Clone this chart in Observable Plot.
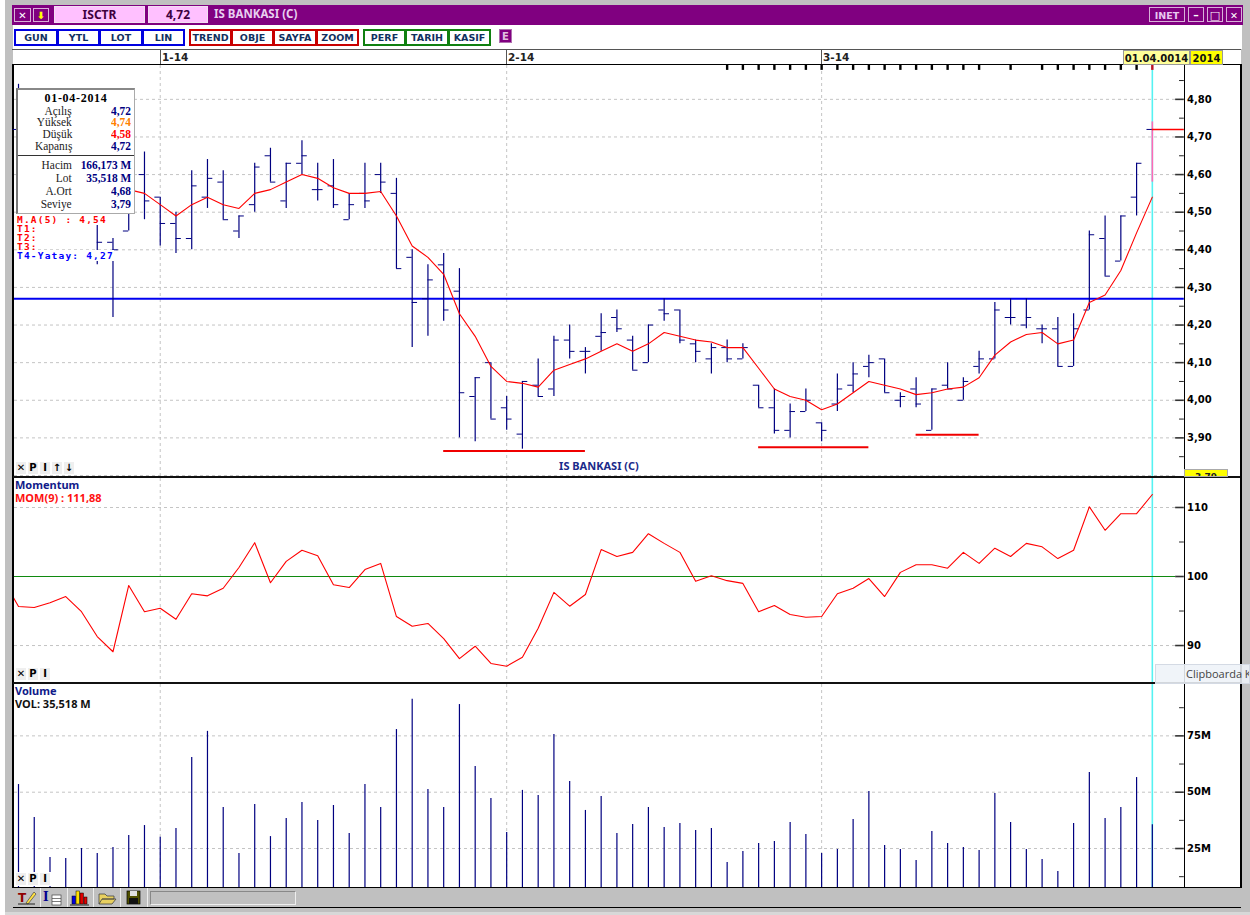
<!DOCTYPE html>
<html><head><meta charset="utf-8">
<script src="https://cdn.jsdelivr.net/npm/d3@7"></script>
<script src="https://cdn.jsdelivr.net/npm/@observablehq/plot@0.6"></script>
<style>
html,body{margin:0;padding:0;background:#fff;}
#win{position:relative;width:1250px;height:915px;overflow:hidden;background:#c0c0c0;font-family:"DejaVu Sans",sans-serif;}
#win>*{position:absolute;}
.pane{left:0;}
.pane svg{display:block;background:transparent;}
.bx{box-sizing:border-box;position:absolute;text-align:center;font-weight:bold;white-space:nowrap;}
.mini{display:flex;font:bold 10px "DejaVu Sans";color:#000;}
.mini span{box-sizing:border-box;width:12px;height:14px;line-height:12px;text-align:center;border:1px solid #fff;background:#efefef;}
.term{font:bold 9.5px/9px "DejaVu Sans Mono",monospace;letter-spacing:1.2px;white-space:pre;}
.term span{background:#fff;}
.ser{font:12px/11px "Liberation Serif",serif;}
</style></head><body>
<div id="win"></div>
<script>
// ---------- data (73 sessions, index 0 … 72) ----------
const highs = [4.84,4.75,4.74,4.70,4.66,4.54,4.43,4.62,4.66,4.54,4.50,4.61,4.64,4.61,4.49,4.63,4.67,4.63,4.69,4.63,4.64,4.55,4.63,4.63,4.59,4.40,4.36,4.39,4.35,4.06,4.10,4.01,4.05,4.11,4.17,4.20,4.14,4.23,4.24,4.17,4.20,4.27,4.24,4.16,4.15,4.16,4.15,4.04,4.03,3.99,4.03,3.94,4.07,4.10,4.12,4.11,4.02,4.06,4.03,4.10,4.06,4.13,4.26,4.27,4.27,4.20,4.22,4.23,4.45,4.49,4.49,4.63,4.74];
const lows = [4.66,4.61,4.56,4.53,4.52,4.36,4.22,4.45,4.48,4.41,4.39,4.40,4.51,4.48,4.43,4.50,4.58,4.51,4.60,4.53,4.51,4.48,4.51,4.55,4.35,4.14,4.17,4.21,3.90,3.89,3.95,3.92,3.87,4.01,4.01,4.11,4.07,4.13,4.18,4.08,4.10,4.21,4.15,4.10,4.07,4.10,4.11,3.98,3.91,3.90,3.97,3.89,3.97,4.02,4.06,4.02,3.98,3.98,3.92,4.03,4.00,4.07,4.11,4.20,4.19,4.15,4.09,4.09,4.24,4.33,4.37,4.49,4.58];
const opens = [4.72,4.70,4.66,4.60,4.58,4.52,4.42,4.45,4.60,4.54,4.47,4.43,4.54,4.58,4.45,4.52,4.65,4.53,4.63,4.56,4.57,4.48,4.55,4.60,4.55,4.38,4.27,4.36,4.29,4.01,4.10,3.98,3.91,4.04,4.03,4.16,4.13,4.17,4.22,4.16,4.10,4.24,4.24,4.15,4.11,4.14,4.11,4.04,3.98,3.92,3.97,3.94,3.99,4.04,4.09,4.11,4.00,4.03,3.92,4.04,4.00,4.09,4.11,4.22,4.20,4.19,4.19,4.09,4.24,4.43,4.37,4.54,4.72];
const closes = [4.70,4.66,4.60,4.58,4.55,4.42,4.40,4.57,4.53,4.47,4.43,4.57,4.59,4.48,4.49,4.62,4.58,4.63,4.65,4.56,4.52,4.52,4.53,4.58,4.35,4.26,4.32,4.24,4.02,4.06,3.95,3.95,4.05,4.01,4.16,4.13,4.13,4.18,4.19,4.08,4.20,4.23,4.16,4.13,4.14,4.11,4.14,3.98,3.92,3.97,4.00,3.92,4.03,4.07,4.10,4.02,4.01,3.99,4.03,4.03,4.05,4.11,4.24,4.22,4.22,4.19,4.09,4.19,4.44,4.33,4.49,4.63,4.72];
const ma5 = [null,null,null,null,null,null,null,4.56,4.55,4.52,4.49,4.52,4.54,4.52,4.51,4.55,4.56,4.58,4.60,4.59,4.565,4.55,4.55,4.555,4.49,4.41,4.38,4.335,4.23,4.17,4.09,4.05,4.045,4.035,4.08,4.095,4.11,4.13,4.15,4.13,4.15,4.18,4.17,4.16,4.155,4.14,4.14,4.085,4.03,4.01,4.00,3.975,3.99,4.02,4.05,4.04,4.03,4.015,4.02,4.03,4.035,4.06,4.12,4.155,4.175,4.18,4.15,4.16,4.26,4.28,4.345,4.445,4.54];
// momentum starts one session before the visible window
const momentum = [99.7,95.65,95.5,96.2,97.1,94.9,91.3,89.1,98.7,94.9,95.4,93.8,97.5,97.2,98.3,101.3,104.9,99.1,102.2,103.8,103.0,98.8,98.4,101.0,101.9,94.2,92.8,93.2,91.0,88.1,89.9,87.4,87.0,88.3,92.5,97.7,95.7,97.4,103.9,102.9,103.5,106.2,104.8,103.5,99.3,100.1,99.4,99.0,94.9,95.8,94.5,94.1,94.2,97.5,98.3,99.7,97.1,100.6,101.7,101.7,101.2,103.5,101.9,104.1,102.9,104.8,104.3,102.6,103.8,110.1,106.7,109.1,109.1,111.88];
const volume = [53.4,38.8,21.0,20.6,25,22.8,25.4,30.8,35.2,30,33.9,65.4,77,43.2,22.8,44.5,30.3,38.3,45.4,37.4,44.1,31.7,53.4,43.2,77.8,91.2,51.2,43.2,88.9,61.4,47.2,32.1,50.8,48.5,75.6,54.8,41.9,48.1,31.7,35.7,43.2,34.3,36.1,33,33.9,18.8,23.7,27.2,28.1,36.5,31.2,22.8,24.6,37.9,50.3,26.3,24.6,19.7,32.5,27.2,25.4,24.1,49.4,36.5,24.6,20.1,14.8,36.1,58.7,38.3,43.2,56.5,35.518];

const monthStarts = [9,31,51];
const monthLabels = ["1-14","2-14","3-14"];
const topTicks = [45,46,47,48,49,50,51,52,53,54,55,56,57,58,59,60,61,63,65,66,67,68,69,70,71,72];
const horizontal = 4.27;
const supports = [{from:27,to:36,level:3.865},{from:47,to:54,level:3.875},{from:57,to:61,level:3.908}];
const priceTicks = [4.8,4.7,4.6,4.5,4.4,4.3,4.2,4.1,4.0,3.9];
const priceGrid = [4.8,4.7,4.6,4.5,4.4,4.3,4.2,4.1,4.0,3.9,3.8];
const priceMinor = [4.85,4.75,4.65,4.55,4.45,4.35,4.25,4.15,4.05,3.95,3.85];
const momTicks = [110,100,90];
const momGrid = [110,90];
const momMinor = [105,95];
const volTicks = [75,50,25];
const volMinor = [87.5,62.5,37.5,12.5];
const last = 72;

// ---------- layout helpers ----------
const NAVY="#000080", GRID="#c4c4c4", RED="#ff0000", CYAN="#55f2f2";
const FONT='"DejaVu Sans",sans-serif';
const NOTO='"Noto Sans",sans-serif';
const xScale = {domain:[-0.254,74.03], range:[14,1183.8], axis:null};
const idx = d3.range(highs.length);
const comma = (d,n)=>d.toFixed(n).replace(".",",");
const xEnd = xScale.domain[1];

function yAxes(ticks,minor,format){
  return [
    Plot.ruleY(minor,{x1:xEnd-0.3,x2:xEnd,stroke:"#222",strokeWidth:1}),
    Plot.ruleY(ticks,{x1:xEnd-0.55,x2:xEnd,stroke:"#333",strokeWidth:1.6}),
    Plot.axisY(ticks,{anchor:"right",tickSize:0,tickPadding:2.5,tickFormat:format,label:null,
      fontWeight:"bold",fontSize:10,fontFamily:FONT,fill:"#000"}),
    Plot.frame({anchor:"right",stroke:"#000"})
  ];
}
function commonGrid(grid){
  return [
    Plot.ruleY(grid,{x1:xScale.domain[0],x2:xEnd-0.55,stroke:GRID,strokeDasharray:"3 3",strokeWidth:1}),
    Plot.ruleX(monthStarts,{stroke:GRID,strokeDasharray:"3 3",strokeWidth:1}),
    Plot.ruleX([last],{stroke:CYAN,strokeWidth:1.6})
  ];
}
function mount(plot,top){
  const d=document.createElement("div");
  d.className="pane";d.style.top=top+"px";d.appendChild(plot);
  win.appendChild(d);
}
const win=document.getElementById("win");
function rect(l,t,w,h,bg,extra=""){
  const d=document.createElement("div");
  d.style.cssText=`position:absolute;left:${l}px;top:${t}px;width:${w}px;height:${h}px;background:${bg};${extra}`;
  win.appendChild(d);return d;
}
function label(l,t,w,h,txt,css){
  const d=document.createElement("div");d.className="bx";
  d.style.cssText=`left:${l}px;top:${t}px;width:${w}px;height:${h}px;line-height:${h}px;${css}`;
  d.textContent=txt;win.appendChild(d);return d;
}

// ---------- window chrome ----------
rect(0,0,5,915,"#fff");
rect(5,912,1245,3,"#d8d8d8");
rect(12,5,1231,20,"#800080");
rect(13,25,1229,24,"#fff");
rect(12,49,1229,1,"#555");
rect(13,50,1228,15,"#fff");
rect(13,64,1228,1,"#000");
rect(13,65,1228,823,"#fff");
rect(12,64,2,824,"#000");
rect(1240,64,2,824,"#000");
rect(13,888,1228,19,"#c0c0c0");
rect(13,907,1228,1,"#000");

// title bar
const tBtn="border:1px solid #d8b0d8;color:#fff;";
label(14,8,17,14,"✕",tBtn+"font-size:10px;");
label(33,8,16,14,"⬇",tBtn+"font-size:10px;color:#ffff00;");
label(54,6,91,17,"ISCTR",`background:#ffc0ff;color:#400040;font:bold 12px/15px ${NOTO};border:1px solid #f0e0f0;`);
label(148,6,60,17,"4,72",`background:#ffc0ff;color:#400040;font:bold 12px/15px ${NOTO};border:1px solid #f0e0f0;`);
label(214,6,120,17,"IS BANKASI (C)",`color:#e8d0f0;font:bold 11.5px/16px ${NOTO};text-align:left;`);
label(1149,7,36,15,"INET",tBtn+"font-size:9.5px;color:#e8c8f0;");
label(1188,7,16,15,"–",tBtn+"font-size:11px;");
label(1207,7,16,15,"□",tBtn+"font-size:11px;");
label(1226,7,16,15,"✕",tBtn+"font-size:9.5px;");

// toolbar
const groups=[
 {c:"#0000e0",items:[["GUN",14],["YTL",57],["LOT",99],["LIN",142]],end:184},
 {c:"#c80000",items:[["TREND",189],["OBJE",231],["SAYFA",273],["ZOOM",316]],end:358},
 {c:"#108010",items:[["PERF",363],["TARIH",405],["KASIF",448]],end:490}];
for(const g of groups){
  g.items.forEach(([t,x],i)=>{
    const nx=i<g.items.length-1?g.items[i+1][1]:g.end;
    const e=label(x,29,nx-x+1,17,t,`background:#fff;color:#103060;font-size:9.5px;border:2px solid ${g.c};`);
    e.style.lineHeight="13px";
  });
}
label(499,29,13,14,"E","background:#800080;color:#e0c0e0;font-size:10px;border:1px solid #b070b0;");

// date strip
monthStarts.forEach((m,i)=>{
  const x=Math.round(18+15.75*m);
  rect(x,50,1,14,"#555");
  label(x+2,50,40,14,monthLabels[i],"text-align:left;font-size:10.5px;color:#222;");
});
label(1123,50,67,15,"01.04.0014","background:#ffff99;border:1px solid #999;font-size:10px;color:#111;");
label(1190,50,33,15,"2014","background:#ffff00;border:1px solid #999;font-size:10px;color:#111;");

// ---------- price pane ----------
const bars = idx.map(i=>({i,h:highs[i],l:lows[i],o:opens[i],c:closes[i],ma:ma5[i]}));
const regular = bars.filter(d=>d.i<last), lastBar = bars.filter(d=>d.i===last);
const pricePlot = Plot.plot({
  width:1250,height:413,marginTop:0,marginBottom:0,marginLeft:14,marginRight:66,
  style:{background:"transparent"},
  x:xScale, y:{domain:[3.792,4.89],axis:null},
  marks:[
    ...commonGrid(priceGrid),
    Plot.ruleY([horizontal],{x1:xScale.domain[0],x2:xEnd,stroke:"#0000f0",strokeWidth:2}),
    Plot.ruleX(regular,{x:"i",y1:"l",y2:"h",stroke:NAVY,strokeWidth:1.2}),
    Plot.ruleY(regular,{x1:d=>d.i-0.34,x2:"i",y:"o",stroke:NAVY,strokeWidth:1}),
    Plot.ruleY(regular,{x1:"i",x2:d=>d.i+0.34,y:"c",stroke:NAVY,strokeWidth:1}),
    Plot.ruleX(lastBar,{x:"i",y1:"l",y2:"h",stroke:"#ff69b4",strokeWidth:1.6}),
    Plot.ruleY(lastBar,{x1:d=>d.i-0.34,x2:"i",y:"o",stroke:NAVY,strokeWidth:1}),
    Plot.ruleY(lastBar,{x1:"i",x2:xEnd,y:"c",stroke:RED,strokeWidth:1.4}),
    Plot.line(bars,{x:"i",y:"ma",stroke:RED,strokeWidth:1.1,curve:"linear"}),
    Plot.ruleY(supports,{x1:"from",x2:"to",y:"level",stroke:"#f00000",strokeWidth:2}),
    Plot.ruleX(topTicks,{y1:4.89,y2:4.877,stroke:d=>d===last?"#c01020":"#000",strokeWidth:2.4}),
    Plot.text(["IS BANKASI (C)"],{x:36.86,y:3.824,text:d=>d,fill:"#1a2a8a",fontWeight:"bold",fontSize:11,fontFamily:NOTO}),
    ...yAxes(priceTicks,priceMinor,d=>comma(d,2))
  ]
});
mount(pricePlot,65);

// ---------- momentum pane ----------
const momData = momentum.map((v,k)=>({i:k-1,v}));
const momPlot = Plot.plot({
  width:1250,height:205,marginTop:0,marginBottom:0,marginLeft:14,marginRight:66,
  style:{background:"transparent"},
  x:xScale, y:{domain:[84.5,114.2],axis:null},
  marks:[
    ...commonGrid(momGrid),
    Plot.ruleY([100],{x1:xScale.domain[0],x2:xEnd-0.55,stroke:"#108a10",strokeWidth:1.2}),
    Plot.line(momData,{x:"i",y:"v",stroke:RED,strokeWidth:1.1,clip:true}),
    ...yAxes(momTicks,momMinor,d=>String(d))
  ]
});
mount(momPlot,478);

// ---------- volume pane ----------
const volData = volume.map((v,i)=>({i,v}));
const volFloor = 7.7;
const volPlot = Plot.plot({
  width:1250,height:203,marginTop:0,marginBottom:0,marginLeft:14,marginRight:66,
  style:{background:"transparent"},
  x:xScale, y:{domain:[volFloor,97.8],axis:null},
  marks:[
    ...commonGrid(volTicks),
    Plot.ruleX(volData,{x:"i",y1:volFloor,y2:"v",stroke:NAVY,strokeWidth:1.2}),
    ...yAxes(volTicks,volMinor,d=>d+"M")
  ]
});
mount(volPlot,684);

// pane separators
rect(13,476,1227,2,"#111");
rect(13,682,1227,2,"#111");
rect(13,887,1227,1,"#000");
label(1184,469,44,8,"3,79","background:#ffff00;border:1px solid #aaa;font-size:9px;color:#222;line-height:14px;overflow:hidden;");

// ---------- overlays ----------
const info=rect(16,88,116,123,"#fff","border:1px solid #aaa;border-left:2px solid #777;border-top:2px solid #888;box-sizing:content-box;");
const rows=[["Açılış","4,72",NAVY],["Yüksek","4,74","#ff8000"],["Düşük","4,58","#ff0000"],["Kapanış","4,72",NAVY]];
const rows2=[["Hacim","166,173 M"],["Lot","35,518 M"],["A.Ort","4,68"],["Seviye","3,79"]];
function infoText(r,t,txt,col,bold){
  const d=document.createElement("div");
  d.className="ser";
  d.style.cssText=`position:absolute;right:${r}px;top:${t}px;color:${col};font-weight:${bold?"bold":"normal"};white-space:nowrap;transform:scale(.95,1.08);transform-origin:right center;`;
  d.textContent=txt;info.appendChild(d);
}
const head=document.createElement("div");head.className="ser";
head.style.cssText="position:absolute;left:0;width:116px;top:3px;text-align:center;font-weight:bold;letter-spacing:.7px;color:#000;";
head.textContent="01-04-2014";info.appendChild(head);
rows.forEach(([a,b,c],k)=>{const t=15.5+k*11.9;infoText(62,t,a,"#222",false);infoText(3,t,b,c,true);});
const divider=document.createElement("div");
divider.style.cssText="position:absolute;left:0;top:65px;width:116px;height:1px;background:#333;";
info.appendChild(divider);
rows2.forEach(([a,b],k)=>{const t=69.5+k*13;infoText(62,t,a,"#222",false);infoText(3,t,b,NAVY,true);});

const term=document.createElement("div");term.className="term";
term.style.cssText="left:17px;top:215px;color:#ff0000;";
term.innerHTML='<span>M.A(5) : 4,54</span>\nT1:\nT2:\nT3:\n<span style="color:#0000ff">T4-Yatay: 4,27</span>';
win.appendChild(term);

function mini(top,items,l=15){
  const d=document.createElement("div");d.className="mini";
  d.style.cssText=`left:${l}px;top:${top}px;`;
  items.forEach(t=>{const s=document.createElement("span");s.textContent=t;d.appendChild(s);});
  win.appendChild(d);
}
mini(461,["✕","P","I","↑","↓"]);
mini(667,["✕","P","I"]);
mini(872,["✕","P","I"]);

const paneText=`text-align:left;font:bold 11px/12px ${NOTO};`;
label(15,479,100,12,"Momentum",paneText+"color:#101a8a;");
label(15,492,130,12,"MOM(9) : 111,88",paneText+"color:#ff1010;");
label(15,685,100,12,"Volume",paneText+"color:#101a8a;");
label(15,698,130,12,"VOL: 35,518 M",paneText+"color:#111;");

// tooltip
label(1155,664,95,20,"Clipboarda K",'background:rgba(238,242,248,.88);border:1px solid #d4dae4;color:#444;font:normal 11px/18px "Open Sans",sans-serif;text-align:left;padding-left:30px;overflow:hidden;');

// bottom toolbar
function svgIcon(l,w,inner){
  const d=document.createElement("div");
  d.style.cssText=`position:absolute;left:${l}px;top:888px;width:${w}px;height:19px;border-right:1px solid #eee;`;
  d.innerHTML=`<svg width="${w}" height="19">${inner}</svg>`;
  win.appendChild(d);
}
svgIcon(13,27,'<text x="5" y="14" font-family="DejaVu Sans" font-weight="bold" font-size="12" fill="#900000">T</text><path d="M13 15 L21 4 L23 6 L15 16Z" fill="#ffe040" stroke="#444" stroke-width=".7"/><path d="M5 16H22" stroke="#222"/>');
svgIcon(40,27,'<text x="3" y="13" font-family="DejaVu Serif" font-weight="bold" font-size="12" fill="#000090">I</text><rect x="12" y="7" width="9" height="10" fill="#fff" stroke="#444" stroke-width=".7"/><path d="M12 10.5H21M12 13.5H21" stroke="#444" stroke-width=".7"/>');
svgIcon(67,26,'<rect x="5" y="8" width="3.5" height="8" fill="#0000e0" stroke="#000" stroke-width=".5"/><rect x="9" y="3" width="3.5" height="13" fill="#ffe000" stroke="#000" stroke-width=".5"/><rect x="13" y="5" width="3.5" height="11" fill="#e00000" stroke="#000" stroke-width=".5"/><rect x="17" y="9" width="3" height="7" fill="#e00000" stroke="#000" stroke-width=".5"/><path d="M3 17H22" stroke="#222"/>');
svgIcon(93,27,'<path d="M6 16 L6 6 L12 6 L14 8 L21 8 L21 11 L9 11 L6 16 L19 16 L23 11 L9 11" fill="#e8d060" stroke="#444" stroke-width=".8"/>');
svgIcon(120,27,'<rect x="7" y="3" width="13" height="13" fill="#505000" stroke="#000" stroke-width=".7"/><rect x="10" y="3" width="7" height="5" fill="#e0e0e0"/><rect x="9" y="10" width="9" height="6" fill="#111"/>');
rect(150,891,146,14,"#c0c0c0","border:1px solid;border-color:#888 #eee #eee #888;box-sizing:border-box;");
</script>
</body></html>
